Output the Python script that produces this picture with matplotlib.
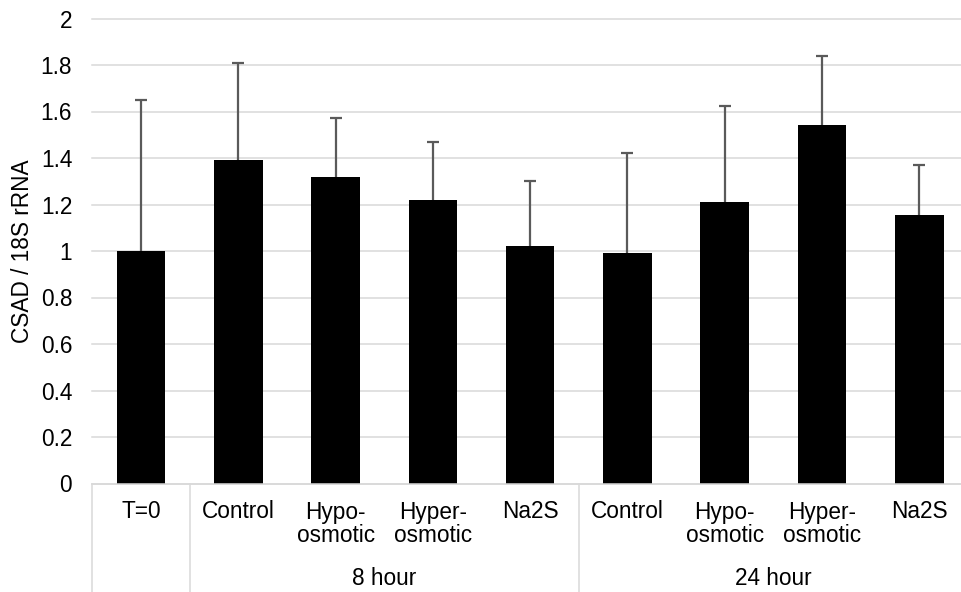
import numpy as np
import matplotlib
matplotlib.use("Agg")
import matplotlib.pyplot as plt

plt.rcParams['font.family'] = ['Liberation Sans', 'DejaVu Sans']

categories = ["T=0", "Control", "Hypo-\nosmotic", "Hyper-\nosmotic", "Na2S",
              "Control", "Hypo-\nosmotic", "Hyper-\nosmotic", "Na2S"]
groups = ["8 hour", "24 hour"]
group_spans = [(1, 4), (5, 8)]
values = [1.00, 1.39, 1.32, 1.22, 1.02, 0.99, 1.21, 1.54, 1.155]
upper_err = [0.65, 0.42, 0.25, 0.25, 0.28, 0.43, 0.415, 0.30, 0.215]
yticks = [0, 0.2, 0.4, 0.6, 0.8, 1, 1.2, 1.4, 1.6, 1.8, 2]
ytick_labels = ["0", "0.2", "0.4", "0.6", "0.8", "1", "1.2", "1.4", "1.6", "1.8", "2"]
ylabel = "CSAD / 18S rRNA"

W, H = 962, 592
FS = 16.3
fig = plt.figure(figsize=(W / 100, H / 100), dpi=100)
fig.patch.set_facecolor("white")

left_px, right_px = 92.35, 968.0
zero_px, top_px = 483.5, 18.5
ax = fig.add_axes([left_px / W, (H - zero_px) / H, (right_px - left_px) / W, (zero_px - top_px) / H])

x = np.arange(len(values))
ax.bar(x, values, width=0.5, color="black", zorder=2)
eb = ax.errorbar(x, values, yerr=[np.zeros(len(values)), upper_err], fmt="none",
                 ecolor="#5a5a5a", elinewidth=1.6, capsize=4.4, capthick=1.6, zorder=3)
for c in eb[1]:
    if np.allclose(c.get_ydata(), values):
        c.set_visible(False)

ax.set_xlim(-0.5, len(values) - 0.5)
ax.set_ylim(0, 2)
ax.set_yticks(yticks)
ax.set_yticklabels(ytick_labels)
ax.tick_params(axis="y", length=0, pad=14.5, labelsize=FS, colors="black")
ax.set_xticks([])
ax.grid(axis="y", color="#d9d9d9", linewidth=1.1, zorder=0)
ax.set_axisbelow(True)
for s in ["top", "right", "left"]:
    ax.spines[s].set_visible(False)
ax.spines["bottom"].set_color("#d9d9d9")
ax.spines["bottom"].set_linewidth(1.1)
for gl in ax.get_ygridlines():
    gl.set_clip_on(False)

# separators of the multi-level category axis
for sx in [-0.5, 0.5, 4.5, len(values) - 0.5]:
    ax.plot([sx, sx], [0, -0.6], color="#d9d9d9", linewidth=1.1, clip_on=False, zorder=1)

unit_px = (zero_px - top_px) / 2.0
base1 = -35.0 / unit_px
line_step = 23.2 / unit_px
base2 = -101.5 / unit_px
for xi, lab in zip(x, categories):
    for i, line in enumerate(lab.split("\n")):
        ax.text(xi, base1 - i * line_step, line, ha="center", va="baseline",
                fontsize=FS, clip_on=False)
for g, (a, b) in zip(groups, group_spans):
    ax.text((a + b) / 2, base2, g, ha="center", va="baseline", fontsize=FS, clip_on=False)

fig.text(23 / W, 1 - 251.5 / H, ylabel, rotation=90, ha="center", va="center", fontsize=FS)

fig.savefig("out.png", dpi=100, facecolor="white")
